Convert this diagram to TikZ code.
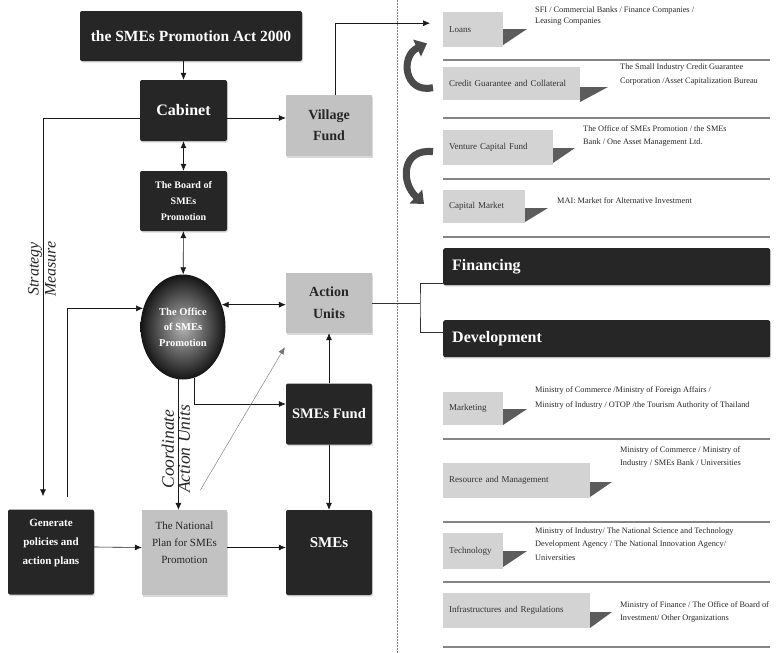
\documentclass[tikz,border=0pt]{standalone}
\usepackage{fontspec}
\setmainfont{Liberation Serif}
\usetikzlibrary{arrows.meta,shapes.geometric,shadows}
\definecolor{dk}{HTML}{262626}
\definecolor{gr}{HTML}{C2C2C2}
\definecolor{itc}{HTML}{D3D3D3}
\definecolor{tric}{HTML}{5C5C5C}
\definecolor{sepc}{HTML}{858585}
\definecolor{carrc}{HTML}{4A4A4A}
\begin{document}
\begin{tikzpicture}[x=1pt,y=-1pt,
  shad/.style={drop shadow={opacity=0.3,shadow xshift=1pt,shadow yshift=-1.5pt}},
  dbox/.style={fill=dk, rounded corners=2pt, text=white, align=center, inner sep=1pt, shad},
  gbox/.style={fill=gr, text=black!85, align=center, inner sep=1pt, shad},
  ibox/.style={fill=itc, anchor=north west, inner xsep=6pt, inner ysep=0pt, align=left, text=black!80, font=\fontsize{9}{11}\selectfont},
  itxt/.style={anchor=north west, inner sep=0pt, align=left, text=black!85, font=\fontsize{8.3}{13.5}\selectfont},
  bar/.style={fill=dk, rounded corners=2pt, text=white, anchor=north west, align=left, inner xsep=9pt, inner ysep=0pt, minimum height=37pt, text width=309pt, font=\fontsize{16}{18}\selectfont\bfseries, shad},
  arr/.style={-{Latex[length=7pt,width=6pt]}, line width=0.6pt, black!90},
  darr/.style={{Latex[length=7pt,width=6pt]}-{Latex[length=7pt,width=6pt]}, line width=0.6pt, black!90},
  plain/.style={line width=0.6pt, black!80},
  sepl/.style={line width=1.4pt, sepc},
  tri/.style={fill=tric},
  curv/.style={carrc, line width=7pt, -{Triangle[length=11pt,width=18pt]}},
  rot/.style={rotate=90, align=center, inner sep=0pt, text=black!85}
]
\useasboundingbox (0,0) rectangle (779,653);

% dashed divider
\draw[black!50, dash pattern=on 1.5pt off 1.5pt, line width=0.8pt] (397,0) -- (397,653);

% ---- left part ----
\node[dbox, minimum width=222pt, minimum height=50pt, font=\fontsize{15.5}{18}\selectfont\bfseries] (act) at (191,36) {the SMEs Promotion Act 2000};
\node[dbox, minimum width=87pt, minimum height=61pt, font=\fontsize{16}{18}\selectfont\bfseries] (cab) at (183.5,110.5) {Cabinet};
\node[gbox, minimum width=86pt, minimum height=61pt, font=\fontsize{14}{21}\selectfont\bfseries] (vil) at (329,125.5) {Village\\Fund};
\node[dbox, minimum width=87pt, minimum height=60pt, font=\fontsize{10}{16}\selectfont\bfseries] (brd) at (183.5,201) {The Board of\\SMEs\\Promotion};
\node[ellipse, minimum width=85pt, minimum height=105pt, inner sep=0pt, inner color=black!30, outer color=black!92, text=white!85, align=center, font=\fontsize{10.5}{15.5}\selectfont\bfseries] (off) at (183,327) {The Office\\of SMEs\\Promotion};
\node[gbox, minimum width=86pt, minimum height=60pt, font=\fontsize{14}{22}\selectfont\bfseries] (au) at (329,303) {Action\\Units};
\node[dbox, minimum width=86pt, minimum height=61pt, font=\fontsize{14.5}{18}\selectfont\bfseries] (fund) at (329,414) {SMEs Fund};
\node[dbox, minimum width=86pt, minimum height=85pt,
  label={[yshift=9pt, text=white, align=center, font=\fontsize{11}{19}\selectfont\bfseries]center:Generate\\policies and\\action plans}] (gen) at (51,552) {};
\node[gbox, minimum width=85pt, minimum height=85pt,
  label={[yshift=10pt, text=black!85, align=center, font=\fontsize{11}{17}\selectfont]center:The National\\Plan for SMEs\\Promotion}] (plan) at (184.5,552.5) {};
\node[dbox, minimum width=86pt, minimum height=85pt,
  label={[yshift=10pt, text=white, font=\fontsize{15}{18}\selectfont\bfseries]center:SMEs}] (smes) at (329,552.5) {};

% rotated labels
\node[rot, font=\fontsize{16}{17}\selectfont\itshape] (strat) at (42,269) {Strategy\\Measure};
\node[rot, font=\fontsize{17.5}{16}\selectfont\itshape] (coord) at (176,449) {Coordinate\\Action Units};

% connectors
\coordinate (sm) at (43,118);
\coordinate (gx) at (67,0);
\coordinate (br) at (420,303);
\draw[arr] (act.south -| cab.north) -- (cab.north);
\draw[darr] (cab) -- (brd);
\draw[darr] (brd) -- (off);
\draw[arr] ([yshift=-7.5pt]cab.east) -- ([yshift=-7.5pt]cab.east -| vil.west);
\draw[arr, shorten >=13pt] ([yshift=-7.5pt]cab.west) -- (sm) -- (sm |- gen.north);
\draw[arr, shorten <=12pt] (gen.north -| gx) |- (off.155);
\draw[darr] (off.30) -- (off.30 -| au.west);
\draw[arr] (off.265) -- (off.265 |- plan.north);
\draw[arr] (off.283) |- ([yshift=10pt]fund.west);
\draw[arr, black!55, line width=0.4pt] ([xshift=16pt,yshift=20pt]plan.north) -- ([xshift=-1pt,yshift=-14pt]au.south west);
\draw[arr] (fund) -- (au);
\draw[arr] (fund) -- (smes);
\draw[arr] ([yshift=5pt]gen.east) -- ([yshift=5pt]plan.west);
\draw[arr] ([yshift=5pt]plan.east) -- ([yshift=5pt]smes.west);

% ---- right part ----
\node[bar] (fin) at (443,248) {Financing};
\node[bar] (dev) at (443,320) {Development};
\draw[plain] (au.east) -- (br);
\draw[plain] ([yshift=2pt]fin.south west) -| (br) |- ([yshift=6.5pt]dev.west);

% separators
\foreach \yy in {60,118,179,237,439,522,582,647} \draw[sepl] (443,\yy) -- (770,\yy);

% financing items
\node[ibox, text width=48pt, minimum height=35pt] (b1) at (443,12) {Loans};
\fill[tri] (503,29) -- (527,29) -- (503,45) -- cycle;
\node[itxt, font=\fontsize{8.3}{11}\selectfont] (t1) at (535,7) {SFI / Commercial Banks / Finance Companies /\\Leasing Companies};

\node[ibox, text width=125pt, minimum height=33pt] (b2) at (443,67) {Credit Guarantee and Collateral};
\fill[tri] (580,87) -- (608,87) -- (580,102) -- cycle;
\node[itxt] (t2) at (620,64) {The Small Industry Credit Guarantee\\Corporation /Asset Capitalization Bureau};

\node[ibox, text width=98pt, minimum height=35pt] (b3) at (443,130) {Venture Capital Fund};
\fill[tri] (553,148) -- (575,148) -- (553,163) -- cycle;
\node[itxt] (t3) at (583,125) {The Office of SMEs Promotion / the SMEs\\Bank / One Asset Management Ltd.};

\node[ibox, text width=70pt, minimum height=33pt] (b4) at (443,190) {Capital Market};
\fill[tri] (525,208) -- (548,208) -- (525,222) -- cycle;
\node[itxt] (t4) at (557,197) {MAI: Market for Alternative Investment};

% development items
\node[ibox, text width=48pt, minimum height=33pt] (b5) at (443,392) {Marketing};
\fill[tri] (503,409) -- (527,409) -- (503,425) -- cycle;
\node[itxt, font=\fontsize{8.3}{15}\selectfont] (t5) at (535,386) {Ministry of Commerce /Ministry of Foreign Affairs /\\Ministry of Industry / OTOP /the Tourism Authority of Thailand};

\node[ibox, text width=135pt, minimum height=35pt] (b6) at (443,463) {Resource and Management};
\fill[tri] (590,482) -- (612,482) -- (590,497) -- cycle;
\node[itxt] (t6) at (620,446) {Ministry of Commerce / Ministry of\\Industry / SMEs Bank / Universities};

\node[ibox, text width=48pt, minimum height=36pt] (b7) at (443,533) {Technology};
\fill[tri] (503,551) -- (527,551) -- (503,567) -- cycle;
\node[itxt] (t7) at (535,527) {Ministry of Industry/ The National Science and Technology\\Development Agency / The National Innovation Agency/\\Universities};

\node[ibox, text width=135pt, minimum height=35pt] (b8) at (443,593) {Infrastructures and Regulations};
\fill[tri] (590,612) -- (612,612) -- (590,628) -- cycle;
\node[itxt] (t8) at (620,601) {Ministry of Finance / The Office of Board of\\Investment/ Other Organizations};

% village fund to loans
\draw[arr, shorten >=13pt] ([xshift=6pt]vil.north) |- ([yshift=6.5pt]b1.west);

% curved arrows
\draw[curv] ([xshift=-10pt,yshift=-4pt]b2.west) .. controls (404,94) and (400,56) .. ([xshift=-16pt,yshift=4pt]b1.south west);
\draw[curv] ([xshift=-10pt,yshift=-4pt]b3.west) .. controls (402,148) and (400,182) .. ([xshift=-19pt,yshift=-14pt]b4.north west);
\end{tikzpicture}
\end{document}
